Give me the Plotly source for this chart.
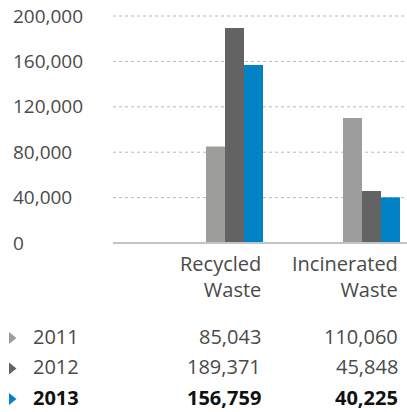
import plotly.graph_objects as go

# ---- data ----
categories = ["Recycled<br>Waste", "Incinerated<br>Waste"]
years = ["2011", "2012", "2013"]
recycled = [85043, 189371, 156759]
incinerated = [110060, 45848, 40225]
y_ticks = [0, 40000, 80000, 120000, 160000, 200000]

# ---- styling ----
colors = ["#9d9d9c", "#636363", "#0082c6"]
FONT = "Open Sans"
TEXT = "#4a4a4a"
FIG_W, FIG_H = 407, 412
AXIS_TOP_PX, AXIS_BOT_PX = 16, 243          # pixel rows of 200,000 and 0
Y_MAX = 200000
M_L = 10
PX_PER_UNIT = (AXIS_BOT_PX - AXIS_TOP_PX) / Y_MAX
PAD_PX = 16                                  # headroom so edge tick labels fit
Y_PAD = PAD_PX / PX_PER_UNIT
M_T = AXIS_TOP_PX - PAD_PX
M_B = FIG_H - AXIS_BOT_PX - PAD_PX
PLOT_W = FIG_W - M_L
PLOT_H = FIG_H - M_T - M_B

# horizontal layout of the category slots (pixels)
SLOT_PX = 137.0
SLOT0_PX = 140.0
BAR_W = 19 / SLOT_PX
BAR_START = 66 / SLOT_PX
GROUP_END = BAR_START + 3 * BAR_W
GRID_X0_PX = 113


def px_x(px):
    return (px - M_L) / PLOT_W


def px_y(py):
    return (FIG_H - M_B - py) / PLOT_H


fig = go.Figure()

series = [[recycled[i], incinerated[i]] for i in range(len(years))]
for i, (yr, vals) in enumerate(zip(years, series)):
    fig.add_trace(go.Bar(
        x=list(range(len(categories))),
        y=vals,
        name=yr,
        width=BAR_W,
        offset=BAR_START + i * BAR_W,
        marker=dict(color=colors[i], line=dict(width=0)),
        hoverinfo="y",
    ))

shapes = []
for v in y_ticks:
    if v == 0:
        shapes.append(dict(type="line", xref="paper", yref="y",
                           x0=px_x(GRID_X0_PX), x1=1, y0=0, y1=0,
                           line=dict(color="#c4c4c4", width=2), layer="above"))
    else:
        shapes.append(dict(type="line", xref="paper", yref="y",
                           x0=px_x(GRID_X0_PX), x1=1, y0=v, y1=v,
                           line=dict(color="#b8b8b8", width=1, dash="dot"),
                           layer="below"))

annotations = []
for c, label in enumerate(categories):
    annotations.append(dict(
        x=c + GROUP_END, xref="x", xanchor="right",
        y=px_y(276.5), yref="paper", yanchor="middle",
        text=label, align="right", showarrow=False,
        font=dict(family=FONT, size=20, color=TEXT),
    ))

row_py = [336, 366.5, 397]
for i, yr in enumerate(years):
    bold = i == len(years) - 1
    fnt = dict(family=FONT, size=20, color="#111111" if bold else TEXT,
               weight="bold" if bold else "normal")
    cy = row_py[i]
    ty = cy + 2
    shapes.append(dict(
        type="path", xref="paper", yref="paper",
        path=(f"M {px_x(9)},{px_y(ty - 6)} L {px_x(16.5)},{px_y(ty)} "
              f"L {px_x(9)},{px_y(ty + 6)} Z"),
        fillcolor=colors[i], line=dict(width=0),
    ))
    annotations.append(dict(
        x=px_x(31), xref="paper", xanchor="left",
        y=px_y(cy), yref="paper", yanchor="middle",
        text=yr, showarrow=False, font=fnt,
    ))
    for c, vals in enumerate([recycled, incinerated]):
        annotations.append(dict(
            x=c + GROUP_END, xref="x", xanchor="right",
            y=px_y(cy), yref="paper", yanchor="middle",
            text=f"{vals[i]:,}", showarrow=False, font=fnt,
        ))

fig.update_layout(
    width=FIG_W, height=FIG_H,
    margin=dict(l=M_L, r=0, t=M_T, b=M_B, pad=0),
    paper_bgcolor="white", plot_bgcolor="white",
    barmode="overlay",
    showlegend=False,
    font=dict(family=FONT, size=19, color=TEXT),
    xaxis=dict(
        range=[(M_L - SLOT0_PX) / SLOT_PX, (FIG_W - SLOT0_PX) / SLOT_PX],
        showticklabels=False, showgrid=False, zeroline=False,
        showline=False, ticks="", fixedrange=True,
    ),
    yaxis=dict(
        range=[-Y_PAD, Y_MAX + Y_PAD],
        tickvals=y_ticks,
        ticktext=[f"{v:,}" for v in y_ticks],
        ticklabelposition="inside",
        showgrid=False, zeroline=False, showline=False, ticks="",
        tickfont=dict(family=FONT, size=19, color=TEXT),
        fixedrange=True,
    ),
    shapes=shapes,
    annotations=annotations,
)

fig.write_html("out.html", config={"displayModeBar": False})
